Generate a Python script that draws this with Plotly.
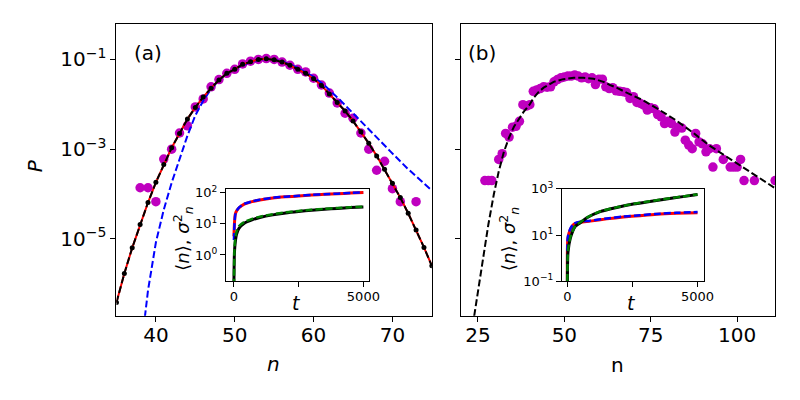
import numpy as np
import plotly.graph_objects as go

# ---- panel (a): distributions, values read as log10(P) ----
n_a = list(range(35, 76))
logp_exact_a = [-6.42, -5.77, -5.20, -4.68, -4.19, -3.74, -3.34, -2.97, -2.65, -2.33,
                -2.07, -1.84, -1.64, -1.46, -1.31, -1.22, -1.11, -1.05, -1.00, -0.985,
                -1.01, -1.06, -1.13, -1.22, -1.31, -1.43, -1.58, -1.77, -1.96, -2.15,
                -2.37, -2.61, -2.87, -3.15, -3.45, -3.76, -4.08, -4.43, -4.80, -5.19, -5.60]

n_sim_a = [38, 39, 40, 41, 42, 43, 44, 45, 46, 47, 48, 49, 50, 51, 52, 53, 54, 55,
           56, 57, 58, 59, 60, 61, 62, 63, 64, 65, 66, 67, 68, 69, 70, 71, 73]
logp_sim_a = [-3.86, -3.86, -4.17, -3.22, -3.00, -2.64, -2.48, -2.06, -1.88, -1.61,
              -1.45, -1.31, -1.22, -1.10, -1.04, -1.00, -0.98, -1.00, -1.06, -1.13,
              -1.22, -1.28, -1.42, -1.57, -1.75, -1.97, -2.20, -2.31, -2.64, -3.00,
              -3.47, -3.27, -3.88, -4.17, -4.17]

n_pois_a = [38.6, 39, 40, 41, 42, 43, 44, 45, 46, 47, 48, 49, 50, 52, 54, 56, 58, 60,
            61.4, 63.5, 65.6, 67.7, 69.8, 71.9, 74, 75]
logp_pois_a = [-6.75, -6.15, -5.08, -4.35, -3.75, -3.20, -2.70, -2.25, -1.92, -1.66,
               -1.46, -1.32, -1.22, -1.05, -0.985, -1.04, -1.19, -1.39, -1.58, -1.93,
               -2.31, -2.70, -3.06, -3.43, -3.77, -3.92]

# ---- panel (b) ----
n_sim_b = [27, 28, 29, 31, 32, 33, 34, 35, 36, 37, 38, 39, 40, 41, 42, 43, 44, 45,
           46, 47, 48, 49, 50, 51, 52, 53, 54, 55, 56, 57, 58, 59, 60, 61, 62, 63,
           64, 65, 66, 67, 68, 69, 70, 71, 72, 73, 74, 75, 76, 77, 78, 79, 80, 81,
           82, 83, 84, 85, 86, 87, 88, 89, 90, 91, 92, 93, 94, 96, 98, 99, 100, 101,
           102, 105, 111]
logp_sim_b = [-3.70, -3.70, -3.70, -3.23, -3.10, -2.65, -2.73, -2.51, -2.49, -2.38,
              -2.01, -2.04, -2.01, -1.71, -1.68, -1.65, -1.61, -1.62, -1.61, -1.50,
              -1.45, -1.41, -1.39, -1.37, -1.37, -1.35, -1.37, -1.41, -1.39, -1.43,
              -1.41, -1.56, -1.44, -1.44, -1.61, -1.65, -1.63, -1.70, -1.71, -1.72,
              -1.74, -1.87, -1.83, -1.96, -1.98, -2.02, -2.13, -2.08, -2.10, -2.23,
              -2.28, -2.43, -2.38, -2.43, -2.62, -2.51, -2.53, -2.80, -2.91, -2.99,
              -2.65, -2.84, -2.88, -3.06, -2.99, -3.40, -2.99, -3.23, -3.40, -3.40,
              -3.40, -3.23, -3.70, -3.70, -3.70]

n_fit_b = [23.9, 25.0, 26.5, 28.0, 29.6, 31.0, 32.5, 34.0, 35.4, 37.0, 38.2, 40.0,
           41.1, 42.5, 44.0, 46.9, 49.7, 52.7, 55.5, 58.4, 61.3, 63.2, 65.1, 68.0,
           72.8, 77.6, 82.4, 87.2, 92.0, 96.8, 101.6, 106.4, 111.2]
logp_fit_b = [-6.72, -6.15, -5.40, -4.68, -4.00, -3.50, -3.06, -2.74, -2.50, -2.31,
              -2.17, -2.00, -1.86, -1.73, -1.63, -1.50, -1.44, -1.41, -1.41, -1.43,
              -1.50, -1.57, -1.63, -1.74, -1.91, -2.13, -2.36, -2.63, -2.92, -3.16,
              -3.40, -3.64, -3.88]

# ---- insets: mean and variance vs time ----
t_in_a = [0, 20, 50, 100, 200, 400, 700, 1000, 1500, 2000, 2500, 3000, 3500, 4000, 4500, 5000]
var_a = [4, 10, 20, 26, 33, 43, 52, 59, 68, 74, 79, 85, 89, 93, 98, 102]
var_a_th = [3, 9, 19, 26, 34, 44, 53, 60, 69, 75, 80, 86, 90, 94, 99, 103]
mean_a = [0.12, 1.2, 2.5, 4.6, 7.3, 10.5, 13.5, 16, 19.5, 22.5, 25, 27.5, 29.5, 31.5, 33.5, 35]
mean_a_th = [0.1, 1.5, 3.2, 5.5, 8.5, 11.5, 14.5, 17, 20.5, 23.5, 26, 28.5, 30.5, 32.5, 34.5, 36]

t_in_b = [0, 20, 115, 242, 496, 878, 1514, 2150, 2786, 3422, 4185, 5000]
var_b = [0.1, 7.4, 17.5, 29, 36, 40, 50, 60, 69, 79, 87, 93]
var_b_th = [0.1, 8.5, 19, 31, 38, 42, 52, 63, 72, 82, 91, 98]
t_mean_b = [0, 25, 115, 305, 496, 751, 1260, 1896, 2531, 3168, 3805, 4440, 5000]
mean_b = [0.1, 1.9, 7.4, 24, 34, 56, 103, 155, 218, 284, 361, 457, 560]
mean_b_th = [0.1, 2.2, 8.2, 25, 36, 57, 105, 158, 222, 290, 368, 465, 570]

FONT = "DejaVu Sans"
DASH = "7px,3px"
MAG = "#bf00bf"


def p(v):
    return 10 ** np.array(v)


# the page lands the paper at roughly x 5..799, y 17..399 of the shot;
# these map a wanted screen pixel onto paper fractions
def fx(px):
    return (px - 5.0) / 794.0


def fy(py):
    return 1 - (py - 17.0) / 382.0


fig = go.Figure()

# panel (a)
fig.add_trace(go.Scatter(x=n_sim_a, y=p(logp_sim_a), mode="markers",
                         marker=dict(color=MAG, size=9.5), xaxis="x", yaxis="y"))
fig.add_trace(go.Scatter(x=n_pois_a, y=p(logp_pois_a), mode="lines",
                         line=dict(color="#0000ff", width=2, dash=DASH), xaxis="x", yaxis="y"))
fig.add_trace(go.Scatter(x=n_a, y=p(logp_exact_a), mode="lines",
                         line=dict(color="#ff0000", width=2), xaxis="x", yaxis="y"))
fig.add_trace(go.Scatter(x=n_a, y=p(logp_exact_a), mode="lines",
                         line=dict(color="black", width=2, dash=DASH), xaxis="x", yaxis="y"))
fig.add_trace(go.Scatter(x=n_a, y=p(logp_exact_a), mode="markers",
                         marker=dict(color="black", size=5), xaxis="x", yaxis="y"))

# panel (b)
fig.add_trace(go.Scatter(x=n_sim_b, y=p(logp_sim_b), mode="markers",
                         marker=dict(color=MAG, size=9.5), xaxis="x2", yaxis="y2"))
fig.add_trace(go.Scatter(x=n_fit_b, y=p(logp_fit_b), mode="lines",
                         line=dict(color="black", width=2, dash=DASH), xaxis="x2", yaxis="y2"))


def inset_line(t, v, color, ax, dashed):
    style = dict(color=color, width=2.5 if dashed else 3, shape="spline", smoothing=0.6)
    if dashed:
        style["dash"] = DASH
    return go.Scatter(x=t, y=v, mode="lines", line=style, xaxis="x" + ax, yaxis="y" + ax)


# inset (a)
fig.add_trace(inset_line(t_in_a, var_a, "#ff0000", "3", False))
fig.add_trace(inset_line(t_in_a, var_a_th, "#0000ff", "3", True))
fig.add_trace(inset_line(t_in_a, mean_a, "black", "3", False))
fig.add_trace(inset_line(t_in_a, mean_a_th, "#008000", "3", True))

# inset (b)
fig.add_trace(inset_line(t_in_b, var_b, "#ff0000", "4", False))
fig.add_trace(inset_line(t_in_b, var_b_th, "#0000ff", "4", True))
fig.add_trace(inset_line(t_mean_b, mean_b, "black", "4", False))
fig.add_trace(inset_line(t_mean_b, mean_b_th, "#008000", "4", True))

frame = dict(showline=True, mirror=True, linecolor="black", linewidth=1, showgrid=False,
             zeroline=False, ticks="outside", ticklen=5, tickwidth=1, tickcolor="black")
big = dict(family=FONT, size=20, color="black")
small = dict(family=FONT, size=13, color="black")

ptick = [1e-5, 1e-3, 1e-1]
ptext = ["10<sup>\u22125</sup>", "10<sup>\u22123</sup>", "10<sup>\u22121</sup>"]
main_y = [fy(315), fy(24)]
inset_y = [fy(280.7), fy(188.3)]

fig.update_layout(
    width=800, height=400, margin=dict(l=0, r=0, t=0, b=0),
    paper_bgcolor="white", plot_bgcolor="white", showlegend=False,
    xaxis=dict(frame, domain=[fx(114), fx(431)], range=[35, 75], tickvals=[40, 50, 60, 70],
               tickfont=big, ticklabelstandoff=-4, anchor="y"),
    yaxis=dict(frame, domain=main_y, type="log", range=[-6.714, -0.211],
               tickvals=ptick, ticktext=ptext, tickfont=big, anchor="x"),
    xaxis2=dict(frame, domain=[fx(460.7), fx(776)], range=[20.2, 111],
                tickvals=[25, 50, 75, 100], tickfont=big, ticklabelstandoff=-4, anchor="y2"),
    yaxis2=dict(frame, domain=main_y, type="log", range=[-6.714, -0.211],
                tickvals=ptick, showticklabels=False, anchor="x2"),
    xaxis3=dict(frame, domain=[fx(224), fx(368.3)], range=[-310, 5235],
                tickvals=[0, 2500, 5000], ticktext=["0", "", "5000"], tickfont=small,
                ticklabelstandoff=-2, anchor="y3"),
    yaxis3=dict(frame, domain=inset_y, type="log", range=[-0.85, 2.13],
                tickvals=[1, 10, 100],
                ticktext=["10<sup>0</sup>", "10<sup>1</sup>", "10<sup>2</sup>"],
                tickfont=small, anchor="x3"),
    xaxis4=dict(frame, domain=[fx(561.7), fx(704.3)], range=[-210, 5240],
                tickvals=[0, 2500, 5000], ticktext=["0", "", "5000"], tickfont=small,
                ticklabelstandoff=-2, anchor="y4"),
    yaxis4=dict(frame, domain=inset_y, type="log", range=[-1, 3],
                tickvals=[0.1, 10, 1000],
                ticktext=["10<sup>\u22121</sup>", "10<sup>1</sup>", "10<sup>3</sup>"],
                tickfont=small, anchor="x4"),
)

ylab_in = "\u27e8<i>n</i>\u27e9, <i>\u03c3</i><sup>2</sup><sub><i>n</i></sub>"
mid = dict(family=FONT, size=19, color="black")
notes = [
    dict(text="<i>P</i>", x=fx(33), y=fy(165), textangle=-90, font=big),
    dict(text="<i>n</i>", x=fx(272), y=fy(363), font=big),
    dict(text="n", x=fx(617.5), y=fy(364), font=big),
    dict(text="(a)", x=fx(146), y=fy(53), font=big),
    dict(text="(b)", x=fx(481), y=fy(53), font=big),
    dict(text="<i>t</i>", x=fx(295), y=fy(302), font=mid),
    dict(text="<i>t</i>", x=fx(632), y=fy(302), font=mid),
    dict(text=ylab_in, x=fx(180), y=fy(238), textangle=-90, font=dict(mid, size=18)),
    dict(text=ylab_in, x=fx(508), y=fy(238), textangle=-90, font=dict(mid, size=18)),
]
for a in notes:
    fig.add_annotation(xref="paper", yref="paper", showarrow=False,
                       xanchor="center", yanchor="middle", **a)

fig.write_html("out.html")
